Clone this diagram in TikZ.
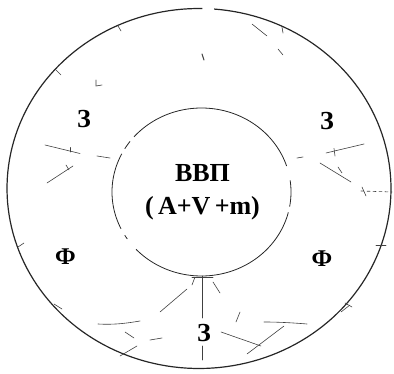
\documentclass[tikz,border=0pt]{standalone}
\usepackage{fontspec}
\setmainfont{Liberation Serif}
\begin{document}
\begin{tikzpicture}[x=1pt,y=-1pt,
  outerline/.style={line width=1.2pt,black!85},
  innerline/.style={line width=0.8pt,black!85},
  frag/.style={line width=0.6pt,black!75,line cap=round},
  bigtxt/.style={font=\bfseries\fontsize{26}{28}\selectfont,inner sep=0pt,anchor=base},
  lbl/.style={font=\bfseries\fontsize{26}{28}\selectfont,inner sep=0pt,anchor=base},
  flbl/.style={font=\bfseries\fontsize{24}{26}\selectfont,inner sep=0pt,anchor=base}]
\useasboundingbox (0,0) rectangle (394,374);
% outer ring (with the small break at the top)
\draw[outerline] plot[domain=-85.5:271,samples=180] ({199+192*cos(\x)},{188.5+180*sin(\x)});
% inner ring (broken in places)
\foreach \a/\b in {-8/10,14/137,146/149,154/207,211/217,221/342}
  \draw[innerline] plot[domain=\a:\b,samples=60] ({201.5+89.5*cos(\x)},{192+84*sin(\x)});
% texts
\node[bigtxt] (bvp) at (202.5,182) {ВВП};
\node[bigtxt] (form) at (202.5,215) {(\,A+V\,+m)};
\node[lbl] (z1) at (84,128) {З};
\node[lbl] (z2) at (327,130) {З};
\node[lbl] (z3) at (204,342) {З};
\node[flbl] (f1) at (65.5,265) {Ф};
\node[flbl] (f2) at (322,267) {Ф};
% upper left fragments
\draw[frag] (45,145) -- (80,153.5);
\draw[frag] (70,147.5) -- (70,152);
\draw[frag] (97,156) -- (110,158);
\draw[frag] (47,183) -- (73,166);
\draw[frag] (66,165) -- (69,170);
\draw[frag] (96,80) -- (96,86) -- (102,85);
\draw[frag] (56,70) -- (61,75);
\draw[frag] (118,26) -- (121,31);
% top fragments
\draw[frag] (252,24) -- (267,36);
\draw[frag] (278,49) -- (283,55);
\draw[frag,line width=1pt] (202,54) -- (204,60);
\draw[frag] (282,27) -- (283,33);
% upper right fragments
\draw[frag] (297,158) -- (303,157);
\draw[frag] (326,153) -- (364,144);
\draw[frag] (334,148.5) -- (335,156);
\draw[frag] (320,163) -- (351,182);
\draw[frag] (338,167) -- (342,173);
\draw[frag,dashed] (361,191) -- (392,192);
\draw[frag] (362,187) -- (366,196);
% right side ticks on outer ring
\draw[frag] (376,245) -- (386,245);
\draw[frag] (341,312) -- (350,305);
\draw[frag] (345,303) -- (352,307);
% left side ticks on outer ring
\draw[frag] (18,247) -- (24,243);
\draw[frag] (54,304) -- (62,309);
% bottom fragments
\draw[frag] (202,276) -- (202,318);
\draw[frag] (202,346) -- (202,360);
\draw[frag] (192,277) -- (213,277);
\draw[frag] (192,285) -- (195,277);
\draw[frag] (213,282) -- (220,293);
\draw[frag] (98,324) .. controls (115,325) and (128,323) .. (140,321);
\draw[frag] (160,312) -- (187,289);
\draw[frag] (125,332) -- (134,338);
\draw[frag] (150,340) -- (162,338);
\draw[frag] (120,356) -- (137,346);
\draw[frag] (240,312) -- (236,322);
\draw[frag] (221,332) -- (261,346);
\draw[frag] (264,322) .. controls (280,322) and (295,323) .. (307,324);
\draw[frag] (247,354) -- (284,326);
\end{tikzpicture}
\end{document}
